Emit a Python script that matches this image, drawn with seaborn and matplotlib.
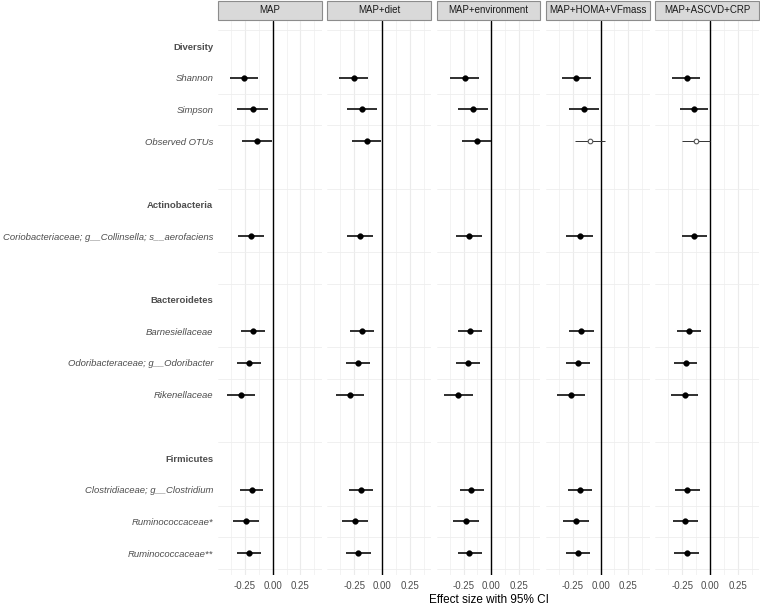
import numpy as np
import pandas as pd
import seaborn as sns
import matplotlib.pyplot as plt
from matplotlib.patches import Rectangle

MODELS = ['MAP', 'MAP+diet', 'MAP+environment', 'MAP+HOMA+VFmass', 'MAP+ASCVD+CRP']

# rows from top to bottom, blank strings are spacer rows
ROWS = ['Diversity', 'Shannon', 'Simpson', 'Observed OTUs', '',
        'Actinobacteria', 'Coriobacteriaceae; g__Collinsella; s__aerofaciens', '',
        'Bacteroidetes', 'Barnesiellaceae', 'Odoribacteraceae; g__Odoribacter', 'Rikenellaceae', '',
        'Firmicutes', 'Clostridiaceae; g__Clostridium', 'Ruminococcaceae*', 'Ruminococcaceae**']
HEADERS = ['Diversity', 'Actinobacteria', 'Bacteroidetes', 'Firmicutes']

TAXA = ['Shannon', 'Simpson', 'Observed OTUs',
        'Coriobacteriaceae; g__Collinsella; s__aerofaciens',
        'Barnesiellaceae', 'Odoribacteraceae; g__Odoribacter', 'Rikenellaceae',
        'Clostridiaceae; g__Clostridium', 'Ruminococcaceae*', 'Ruminococcaceae**']

EST_MAP = [-0.259, -0.181, -0.142, -0.196, -0.181, -0.217, -0.286, -0.190, -0.241, -0.214]
LO_MAP = [-0.385, -0.319, -0.274, -0.310, -0.289, -0.322, -0.410, -0.295, -0.356, -0.322]
HI_MAP = [-0.130, -0.045, -0.004, -0.079, -0.070, -0.108, -0.160, -0.085, -0.126, -0.106]

EST_DIET = [-0.256, -0.184, -0.139, -0.196, -0.181, -0.220, -0.289, -0.190, -0.241, -0.214]
LO_DIET = [-0.385, -0.316, -0.271, -0.311, -0.292, -0.325, -0.412, -0.295, -0.358, -0.322]
HI_DIET = [-0.126, -0.045, -0.006, -0.081, -0.069, -0.112, -0.160, -0.081, -0.124, -0.103]

EST_ENV = [-0.241, -0.165, -0.133, -0.199, -0.196, -0.214, -0.301, -0.181, -0.232, -0.199]
LO_ENV = [-0.370, -0.301, -0.264, -0.316, -0.304, -0.322, -0.430, -0.286, -0.343, -0.304]
HI_ENV = [-0.111, -0.033, -0.002, -0.084, -0.084, -0.106, -0.169, -0.069, -0.111, -0.087]

EST_HOMA = [-0.217, -0.153, -0.093, -0.189, -0.172, -0.201, -0.265, -0.184, -0.223, -0.202]
LO_HOMA = [-0.349, -0.286, -0.226, -0.307, -0.280, -0.307, -0.388, -0.289, -0.337, -0.310]
HI_HOMA = [-0.090, -0.015, 0.039, -0.072, -0.060, -0.093, -0.141, -0.075, -0.105, -0.096]

EST_ASCVD = [-0.210, -0.144, -0.126, -0.141, -0.186, -0.219, -0.228, -0.204, -0.221, -0.208]
LO_ASCVD = [-0.337, -0.267, -0.255, -0.255, -0.292, -0.322, -0.352, -0.312, -0.334, -0.319]
HI_ASCVD = [-0.090, -0.015, 0.003, -0.030, -0.078, -0.114, -0.105, -0.093, -0.105, -0.096]

# horizontal separator lines, in row units
GRID_Y = [-0.5, 1.5, 2.5, 4.5, 6.5, 7, 7.5, 9.5, 10.5, 12.5, 14.5, 15.5, 16.5]

TEXT_GREY = '#4D4D4D'


def get_data():
    values = {
        'MAP': (EST_MAP, LO_MAP, HI_MAP),
        'MAP+diet': (EST_DIET, LO_DIET, HI_DIET),
        'MAP+environment': (EST_ENV, LO_ENV, HI_ENV),
        'MAP+HOMA+VFmass': (EST_HOMA, LO_HOMA, HI_HOMA),
        'MAP+ASCVD+CRP': (EST_ASCVD, LO_ASCVD, HI_ASCVD),
    }
    frames = []
    for model in MODELS:
        est, lo, hi = values[model]
        frames.append(pd.DataFrame({'model': model, 'taxon': TAXA,
                                    'est': est, 'lo': lo, 'hi': hi}))
    df = pd.concat(frames, ignore_index=True)
    df['row'] = df['taxon'].map({name: i for i, name in enumerate(ROWS)})
    # significant when the CI does not cross zero
    df['sig'] = (df['hi'] < 0) | (df['lo'] > 0)
    return df


def draw_effects(data, color=None, **kws):
    ax = plt.gca()
    sig = data[data['sig']]
    ns = data[~data['sig']]
    ax.axvline(0, color='black', lw=1.0, zorder=1.5)
    ax.hlines(sig['row'], sig['lo'], sig['hi'], color='#1f1f1f', lw=1.3, zorder=2)
    ax.hlines(ns['row'], ns['lo'], ns['hi'], color='#333333', lw=0.7, zorder=2)
    sns.scatterplot(data=sig, x='est', y='row', ax=ax, color='black', s=17,
                    edgecolor='black', linewidth=0.3, zorder=3)
    sns.scatterplot(data=ns, x='est', y='row', ax=ax, facecolor='white', s=11,
                    edgecolor='#555555', linewidth=0.8, zorder=3)


def format_axes(g):
    for ax, name in zip(g.axes.flat, MODELS):
        ax.set_frame_on(False)
        ax.set_xlim(-0.4925, 0.4425)
        ax.set_ylim(16.69, -0.79)
        ax.set_xticks([-0.25, 0, 0.25])
        ax.set_xticklabels(['-0.25', '0.00', '0.25'])
        ax.set_xticks([-0.375, -0.125, 0.125, 0.375], minor=True)
        ax.set_yticks(range(len(ROWS)))
        ax.set_yticks(GRID_Y, minor=True)
        ax.grid(False)
        ax.grid(which='major', axis='x', color='#EBEBEB', lw=0.8, zorder=0)
        ax.grid(which='minor', axis='x', color='#F1F1F1', lw=0.6, zorder=0)
        ax.grid(which='minor', axis='y', color='#EEEEEE', lw=0.6, zorder=0)
        ax.set_axisbelow(True)
        ax.tick_params(axis='x', which='major', length=2.5, width=0.6, color='#333333',
                       labelsize=7, labelcolor=TEXT_GREY, pad=2)
        ax.tick_params(axis='x', which='minor', length=0)
        ax.tick_params(axis='y', which='both', length=0, pad=3.5)
        ax.set_xlabel('')
        ax.set_ylabel('')

        # facet strip
        ax.add_patch(Rectangle((0, 1.0018), 1, 0.0343, transform=ax.transAxes,
                               facecolor='#D9D9D9', edgecolor='#8C8C8C', lw=0.8,
                               clip_on=False))
        ax.text(0.5, 1.019, name, transform=ax.transAxes, ha='center', va='center',
                fontsize=7, color='#1A1A1A')

    ax0 = g.axes.flat[0]
    ax0.set_yticklabels(ROWS)
    for label in ax0.get_yticklabels():
        label.set_fontsize(6.8)
        label.set_color(TEXT_GREY)
        if label.get_text() in HEADERS:
            label.set_fontweight('bold')
        else:
            label.set_fontstyle('italic')
    for ax in g.axes.flat[1:]:
        ax.tick_params(axis='y', labelleft=False)


def main():
    df = get_data()

    sns.set_theme(style='white')
    plt.rcParams['font.family'] = ['Liberation Sans', 'DejaVu Sans']

    g = sns.FacetGrid(df, col='model', col_order=MODELS, sharex=True, sharey=True,
                      height=5.5, aspect=0.2)
    g.map_dataframe(draw_effects)
    g.set_titles('')
    g.set_axis_labels('', '')

    fig = g.figure
    fig.set_size_inches(7.6, 6.07)
    fig.subplots_adjust(left=218 / 760, right=759 / 760, top=1 - 21 / 607,
                        bottom=1 - 575 / 607, wspace=5.5 / 104)
    format_axes(g)

    fig.text((218 + 759) / 2 / 760, 1 - 600 / 607, 'Effect size with 95% CI',
             ha='center', va='center', fontsize=8.5, color='black')

    fig.savefig('out.png', dpi=100)


if __name__ == '__main__':
    main()
